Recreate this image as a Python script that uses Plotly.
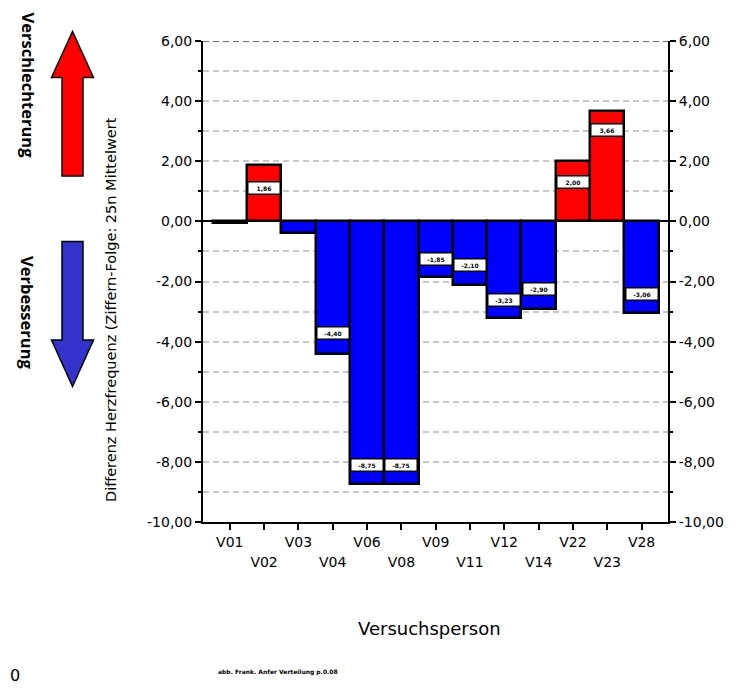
import plotly.graph_objects as go

# ---------------- data ----------------
categories = ["V01", "V02", "V03", "V04", "V06", "V08", "V09",
              "V11", "V12", "V14", "V22", "V23", "V28"]
differences = [-0.05, 1.86, -0.40, -4.40, -8.75, -8.75, -1.85,
               -2.10, -3.23, -2.90, 2.00, 3.66, -3.06]
label_positions = [None, 1.10, None, -3.70, -8.10, -8.10, -1.26,
                   -1.45, -2.60, -2.26, 1.30, 3.04, -2.40]
y_tick_values = [6, 4, 2, 0, -2, -4, -6, -8, -10]
y_tick_labels = ["6,00", "4,00", "2,00", "0,00", "-2,00", "-4,00",
                 "-6,00", "-8,00", "-10,00"]

RED = "#FF0000"
BLUE = "#0000FF"
ARROW_BLUE = "#3333CC"
FONT = "DejaVu Sans"

W, H = 741, 693
OFF = 8                       # page body margin of the written html
L, R, T, B = 203, 668, 41, 522  # plot area in page pixels


def px(x):
    return (x - L) / (R - L)


def py(y):
    return (B - y) / (B - T)


colors = [RED if v > 0 else BLUE for v in differences]

fig = go.Figure()
fig.add_trace(go.Bar(
    x=categories, y=differences,
    marker=dict(color=colors, line=dict(color="black", width=2.5)),
    showlegend=False, hoverinfo="x+y",
))
# helper trace for secondary axes
fig.add_trace(go.Scatter(
    x=categories, y=differences, xaxis="x2", yaxis="y2",
    mode="markers", marker=dict(opacity=0), showlegend=False,
    hoverinfo="skip",
))

# label boxes inside bars
for c, v, pos in zip(categories, differences, label_positions):
    if pos is None:
        continue
    fig.add_annotation(
        x=c, y=pos, xref="x", yref="y",
        text="<b>" + f"{v:.2f}".replace(".", ",") + "</b>",
        showarrow=False, font=dict(family=FONT, size=6, color="black"),
        bgcolor="white", bordercolor="black", borderwidth=1.5,
        borderpad=0, width=31, height=11,
        xanchor="center", yanchor="middle",
    )

xr = [-0.78, 12.77]
yr = [-10, 6]

axis_common = dict(
    showline=True, linecolor="black", linewidth=2,
    ticks="outside", ticklen=6, tickwidth=1.5, tickcolor="black",
    tickfont=dict(family=FONT, size=14, color="black"),
)

fig.update_layout(
    width=W, height=H,
    margin=dict(l=L - OFF, r=W + OFF - R, t=T - OFF, b=H + OFF - B),
    paper_bgcolor="white", plot_bgcolor="white",
    bargap=0,
    font=dict(family=FONT, color="black"),
    xaxis=dict(
        type="category", range=xr, tickvals=categories,
        ticktext=[c if i % 2 == 0 else "" for i, c in enumerate(categories)],
        showgrid=False, zeroline=False, anchor="y",
        **axis_common,
    ),
    xaxis2=dict(
        type="category", range=xr, overlaying="x", side="bottom", anchor="y",
        tickvals=categories[1::2], ticktext=categories[1::2],
        ticks="", showline=False, showgrid=False, zeroline=False,
        ticklabelstandoff=30,
        tickfont=dict(family=FONT, size=14, color="black"),
    ),
    yaxis=dict(
        range=yr, tickmode="array", tickvals=y_tick_values, ticktext=y_tick_labels,
        showgrid=True, gridcolor="#C8C8C8", gridwidth=1.5, griddash="6px,4px",
        zeroline=True, zerolinecolor="black", zerolinewidth=2,
        minor=dict(tickmode="linear", tick0=0, dtick=1, ticks="outside",
                   ticklen=3, tickcolor="black", showgrid=True,
                   gridcolor="#C8C8C8", gridwidth=1.5, griddash="6px,4px"),
        **axis_common,
    ),
    yaxis2=dict(
        range=yr, overlaying="y", side="right", anchor="x",
        tickmode="array", tickvals=y_tick_values, ticktext=y_tick_labels,
        showgrid=False, zeroline=False,
        minor=dict(tickmode="linear", tick0=0, dtick=1, ticks="outside",
                   ticklen=3, tickcolor="black"),
        **axis_common,
    ),
)

# dashed top border
fig.add_shape(type="line", xref="paper", yref="y", x0=0, x1=1, y0=6, y1=6,
              line=dict(color="#404040", width=1.5, dash="6px,4px"))

# arrows (decorative)
red_pts = [(72.5, 31.5), (93.5, 77.5), (83, 77.5), (83, 176), (62, 176),
           (62, 77.5), (51.5, 77.5)]
blue_pts = [(62, 241.5), (83, 241.5), (83, 340), (93.5, 340), (72.5, 386.5),
            (51.5, 340), (62, 340)]


def path(pts):
    return "M " + " L ".join(f"{px(x):.4f},{py(y):.4f}" for x, y in pts) + " Z"


fig.add_shape(type="path", xref="paper", yref="paper", path=path(red_pts),
              fillcolor=RED, line=dict(color="black", width=1.5), layer="above")
fig.add_shape(type="path", xref="paper", yref="paper", path=path(blue_pts),
              fillcolor=ARROW_BLUE, line=dict(color="black", width=1.5), layer="above")


def note(x, y, text, size, family=FONT, angle=0):
    fig.add_annotation(x=px(x), y=py(y), xref="paper", yref="paper",
                       text=text, textangle=angle, showarrow=False,
                       xanchor="center", yanchor="middle",
                       font=dict(family=family, size=size, color="black"))


# side texts
note(28, 85.5, "<b>Verschlechterung</b>", 16.5, "Open Sans", 90)
note(28, 312, "<b>Verbesserung</b>", 16.5, "Open Sans", 90)

# y axis title
note(111, 310, "Differenz Herzfrequenz (Ziffern-Folge: 25n Mittelwert", 14.5, angle=-90)

# x axis title
note(429, 628, "Versuchsperson", 18)

# footer
note(278, 672, "<b>abb. Frank. Anfer Verteilung p.0.08</b>", 6)
note(15, 675, "0", 16)

fig.write_html("out.html")
